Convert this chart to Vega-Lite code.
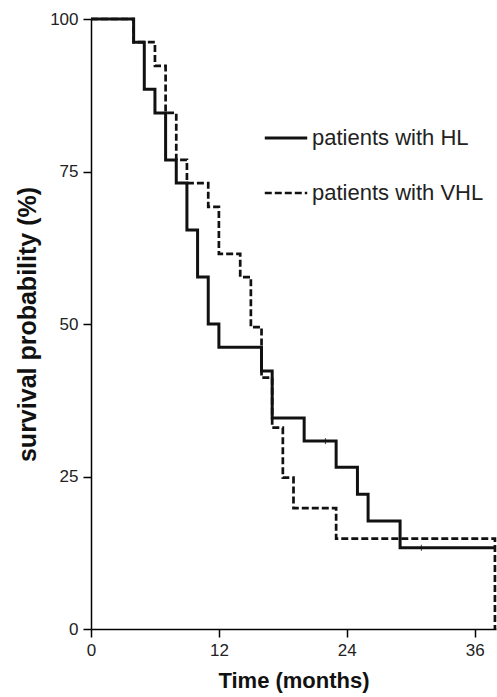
{
  "$schema": "https://vega.github.io/schema/vega-lite/v6.json",
  "width": 405,
  "height": 610,
  "autosize": {"type": "none"},
  "padding": {"left": 91, "top": 19, "right": 1, "bottom": 68},
  "background": "white",
  "config": {
    "view": {"stroke": null},
    "font": "Liberation Sans",
    "axis": {
      "grid": false,
      "domainColor": "#000000",
      "domainWidth": 1.5,
      "tickColor": "#000000",
      "tickWidth": 1.5,
      "tickSize": 8,
      "labelFlush": false,
      "labelFont": "Liberation Sans",
      "labelFontSize": 17,
      "labelColor": "#222222",
      "titleFont": "Liberation Sans",
      "titleFontSize": 22,
      "titleFontWeight": "bold",
      "titleColor": "#111111"
    }
  },
  "datasets": {
    "curves": [
      {"group": "patients with HL", "months": 0, "survival": 100},
      {"group": "patients with HL", "months": 4, "survival": 96.2},
      {"group": "patients with HL", "months": 5, "survival": 88.5},
      {"group": "patients with HL", "months": 6, "survival": 84.6},
      {"group": "patients with HL", "months": 7, "survival": 76.9},
      {"group": "patients with HL", "months": 8, "survival": 73.1},
      {"group": "patients with HL", "months": 9, "survival": 65.4},
      {"group": "patients with HL", "months": 10, "survival": 57.7},
      {"group": "patients with HL", "months": 11, "survival": 50.0},
      {"group": "patients with HL", "months": 12, "survival": 46.2},
      {"group": "patients with HL", "months": 16, "survival": 42.3},
      {"group": "patients with HL", "months": 17, "survival": 34.6},
      {"group": "patients with HL", "months": 20, "survival": 30.8},
      {"group": "patients with HL", "months": 23, "survival": 26.5},
      {"group": "patients with HL", "months": 25, "survival": 22.1},
      {"group": "patients with HL", "months": 26, "survival": 17.7},
      {"group": "patients with HL", "months": 29, "survival": 13.3},
      {"group": "patients with HL", "months": 38, "survival": 13.3},
      {"group": "patients with VHL", "months": 0, "survival": 100},
      {"group": "patients with VHL", "months": 4, "survival": 96.2},
      {"group": "patients with VHL", "months": 6, "survival": 92.3},
      {"group": "patients with VHL", "months": 7, "survival": 84.6},
      {"group": "patients with VHL", "months": 8, "survival": 76.9},
      {"group": "patients with VHL", "months": 9, "survival": 73.1},
      {"group": "patients with VHL", "months": 11, "survival": 69.2},
      {"group": "patients with VHL", "months": 12, "survival": 61.5},
      {"group": "patients with VHL", "months": 14, "survival": 57.7},
      {"group": "patients with VHL", "months": 15, "survival": 49.5},
      {"group": "patients with VHL", "months": 16, "survival": 41.2},
      {"group": "patients with VHL", "months": 17, "survival": 33.0},
      {"group": "patients with VHL", "months": 18, "survival": 24.8},
      {"group": "patients with VHL", "months": 19, "survival": 19.8},
      {"group": "patients with VHL", "months": 23, "survival": 14.8},
      {"group": "patients with VHL", "months": 37.9, "survival": 0}
    ],
    "censored": [
      {"group": "patients with HL", "months": 22, "survival": 30.8},
      {"group": "patients with HL", "months": 31, "survival": 13.3}
    ]
  },
  "layer": [
    {
      "data": {"name": "curves"},
      "mark": {"type": "line", "interpolate": "step-after", "color": "#111111", "strokeCap": "butt", "strokeJoin": "miter"},
      "encoding": {
        "x": {
          "field": "months",
          "type": "quantitative",
          "scale": {"domain": [0, 38], "nice": false, "zero": false},
          "axis": {"values": [0, 12, 24, 36], "title": "Time (months)", "labelPadding": 5, "titlePadding": 12}
        },
        "y": {
          "field": "survival",
          "type": "quantitative",
          "scale": {"domain": [0, 100], "nice": false},
          "axis": {"values": [0, 25, 50, 75, 100], "title": "survival probability (%)", "titleFontSize": 25, "labelPadding": 5, "titlePadding": 9}
        },
        "detail": {"field": "group"},
        "strokeDash": {
          "field": "group",
          "type": "nominal",
          "scale": {"domain": ["patients with HL", "patients with VHL"], "range": [[1, 0], [7, 3]]},
          "legend": {
            "title": null,
            "orient": "none",
            "legendX": 172,
            "legendY": 96,
            "symbolType": "stroke",
            "symbolSize": 1800,
            "symbolStrokeWidth": 2.5,
            "symbolStrokeColor": "#111111",
            "labelFont": "Liberation Sans",
            "labelFontSize": 22,
            "labelColor": "#222222",
            "labelLimit": 300,
            "labelOffset": 3,
            "rowPadding": 21
          }
        },
        "strokeWidth": {
          "field": "group",
          "type": "nominal",
          "scale": {"domain": ["patients with HL", "patients with VHL"], "range": [3, 2.7]},
          "legend": null
        }
      }
    },
    {
      "data": {"name": "censored"},
      "mark": {"type": "tick", "orient": "vertical", "size": 6, "thickness": 1.2, "color": "#111111"},
      "encoding": {
        "x": {"field": "months", "type": "quantitative"},
        "y": {"field": "survival", "type": "quantitative"}
      }
    }
  ]
}
